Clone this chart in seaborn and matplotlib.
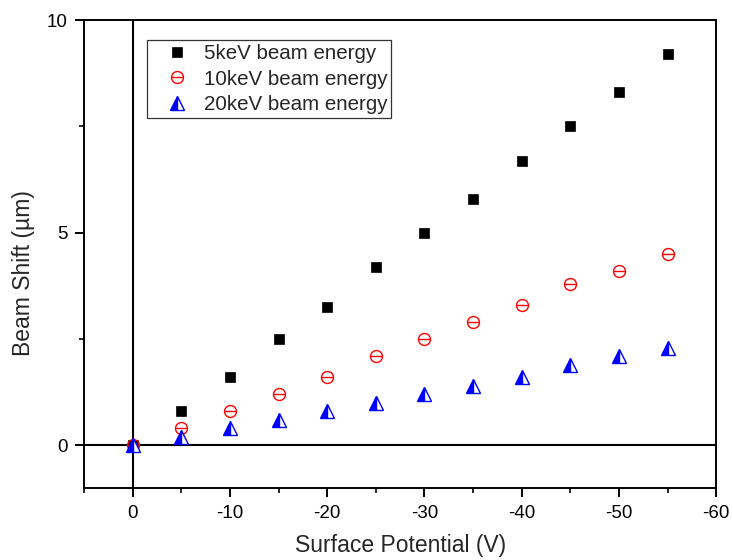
import matplotlib
matplotlib.use("Agg")
import matplotlib.pyplot as plt
from matplotlib.lines import Line2D
import seaborn as sns
import pandas as pd

# Surface potential (V) and measured beam shift (µm) for three beam energies
potential = [0, -5, -10, -15, -20, -25, -30, -35, -40, -45, -50, -55]
shift_5kev = [0, 0.8, 1.6, 2.5, 3.25, 4.2, 5.0, 5.8, 6.7, 7.5, 8.3, 9.2]
shift_10kev = [0, 0.4, 0.8, 1.2, 1.6, 2.1, 2.5, 2.9, 3.3, 3.8, 4.1, 4.5]
shift_20kev = [0, 0.2, 0.4, 0.6, 0.8, 1.0, 1.2, 1.4, 1.6, 1.9, 2.1, 2.3]
series_labels = ["5keV beam energy", "10keV beam energy", "20keV beam energy"]

x_ticks = [0, -10, -20, -30, -40, -50, -60]
y_ticks = [0, 5, 10]

sns.set_theme(style="ticks")
plt.rcParams["font.family"] = ["Liberation Sans", "DejaVu Sans"]
plt.rcParams["axes.linewidth"] = 1.4

df = pd.DataFrame({
    "potential": potential,
    "s5": shift_5kev,
    "s10": shift_10kev,
    "s20": shift_20kev,
})

fig = plt.figure(figsize=(7.33, 5.6), dpi=100)
ax = fig.add_axes([0.1146, 0.1286, 0.8624, 0.8354])

# reference lines through the origin
ax.axhline(0, color="black", lw=1.5, zorder=1)
ax.axvline(0, color="black", lw=1.5, zorder=1)

common = dict(linestyle="", ax=ax, legend=False)
sq_style = dict(marker="s", color="black", markersize=7.4,
                markeredgecolor="black", markeredgewidth=0.5)
circ_style = dict(marker="o", color="red", markersize=8.6,
                  markerfacecolor="none", markeredgecolor="red",
                  markeredgewidth=1.0)
bar_style = dict(marker="_", color="red", markersize=8.6,
                 markeredgecolor="red", markeredgewidth=1.0)
tri_style = dict(marker="^", color="blue", markersize=10.5, fillstyle="left",
                 markerfacecolor="blue", markerfacecoloralt="white",
                 markeredgecolor="blue", markeredgewidth=1.0)

sns.lineplot(data=df, x="potential", y="s5", zorder=3, **sq_style, **common)
sns.lineplot(data=df, x="potential", y="s10", zorder=3, **circ_style, **common)
sns.lineplot(data=df, x="potential", y="s10", zorder=3, **bar_style, **common)
sns.lineplot(data=df, x="potential", y="s20", zorder=4, **tri_style, **common)

ax.set_xlim(5, -60)
ax.set_ylim(-1, 10)
ax.set_xticks(x_ticks)
ax.set_xticklabels([str(v) for v in x_ticks])
ax.set_xticks([5, -5, -15, -25, -35, -45, -55], minor=True)
ax.set_yticks(y_ticks)
ax.set_yticks([2.5, 7.5], minor=True)
ax.tick_params(axis="both", which="major", direction="out", length=6.5, width=1.4,
               labelsize=13.5, colors="black", pad=5.5)
ax.tick_params(axis="both", which="minor", direction="out", length=3.5, width=1.4)
for s in ax.spines.values():
    s.set_visible(True)
    s.set_color("black")

ax.set_xlabel("Surface Potential (V)", fontsize=16.5, labelpad=9)
ax.set_ylabel("Beam Shift (µm)", fontsize=16.5)
ax.yaxis.set_label_coords(-0.078, 0.459)

# legend
h5 = Line2D([], [], linestyle="", **sq_style)
h10 = (Line2D([], [], linestyle="", **circ_style),
       Line2D([], [], linestyle="", **bar_style))
h20 = Line2D([], [], linestyle="", **tri_style)
leg = ax.legend([h5, h10, h20], series_labels,
                loc="upper left", bbox_to_anchor=(0.0997, 0.957),
                fontsize=14.8, frameon=True, fancybox=False, framealpha=1,
                edgecolor="#333333", handlelength=2.5, handletextpad=0.05,
                borderpad=0.2, labelspacing=0.3, borderaxespad=0)
leg.get_frame().set_linewidth(0.9)

fig.savefig("out.png", dpi=100)
